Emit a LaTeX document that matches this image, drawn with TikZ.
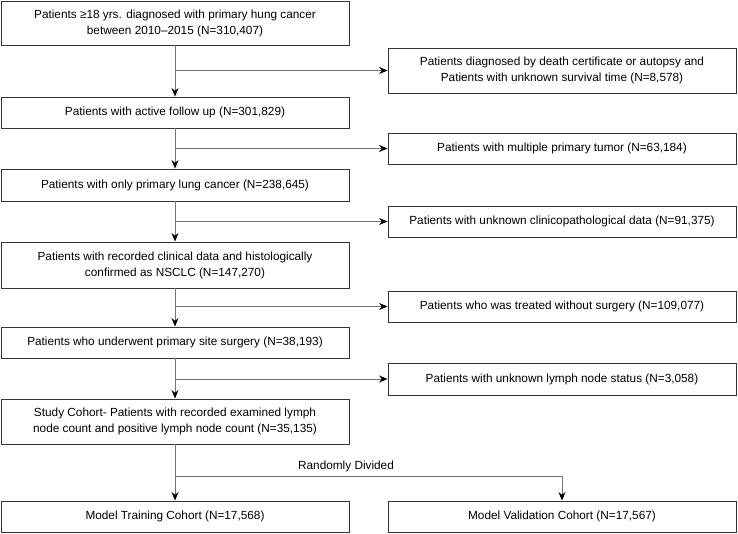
\documentclass[tikz,border=0pt]{standalone}
\usepackage{fontspec}
\setmainfont{Liberation Sans}
\usetikzlibrary{arrows.meta}
\begin{document}
\begin{tikzpicture}[x=1pt,y=-1pt,
  box/.style={draw=black!80,line width=0.9pt,minimum width=348pt,inner sep=2pt,align=center,font=\fontsize{11.8}{16}\selectfont},
  conn/.style={draw=black!55,line width=1pt},
  arr/.style={conn,-{Stealth[length=8.5pt,width=7pt,black]}}]
\useasboundingbox (0,0) rectangle (738,533);
\node[box,minimum height=44pt] (b1) at (175,23) {Patients ≥18 yrs. diagnosed with primary hung cancer\\between 2010–2015 (N=310,407)};
\node[box,minimum height=45pt] (r1) at (562,70.5) {Patients diagnosed by death certificate or autopsy and\\Patients with unknown survival time (N=8,578)};
\node[box,minimum height=31pt] (b2) at (175,112.5) {Patients with active follow up (N=301,829)};
\node[box,minimum height=31pt] (r2) at (562,148.5) {Patients with multiple primary tumor (N=63,184)};
\node[box,minimum height=32pt] (b3) at (175,185) {Patients with only primary lung cancer (N=238,645)};
\node[box,minimum height=31pt] (r3) at (562,221.5) {Patients with unknown clinicopathological data (N=91,375)};
\node[box,minimum height=46pt] (b4) at (175,265) {Patients with recorded clinical data and histologically\\confirmed as NSCLC (N=147,270)};
\node[box,minimum height=31pt] (r4) at (562,306.5) {Patients who was treated without surgery (N=109,077)};
\node[box,minimum height=31pt] (b5) at (175,342.5) {Patients who underwent primary site surgery (N=38,193)};
\node[box,minimum height=32pt] (r5) at (562,379) {Patients with unknown lymph node status (N=3,058)};
\node[box,minimum height=45pt] (b6) at (175,421.5) {Study Cohort- Patients with recorded examined lymph\\node count and positive lymph node count (N=35,135)};
\node[box,minimum height=31pt] (b7) at (175,516.5) {Model Training Cohort (N=17,568)};
\node[box,minimum height=31pt] (b8) at (562,516.5) {Model Validation Cohort (N=17,567)};
\coordinate (split) at (175,476);
\node[font=\fontsize{11.8}{14}\selectfont] (rd) at (346,466) {Randomly Divided};
\draw[arr] (b1.south) -- (b2.north);
\draw[arr] (b1.south |- r1.west) -- (r1.west);
\draw[arr] (b2.south) -- (b3.north);
\draw[arr] (b2.south |- r2.west) -- (r2.west);
\draw[arr] (b3.south) -- (b4.north);
\draw[arr] (b3.south |- r3.west) -- (r3.west);
\draw[arr] (b4.south) -- (b5.north);
\draw[arr] (b4.south |- r4.west) -- (r4.west);
\draw[arr] (b5.south) -- (b6.north);
\draw[arr] (b5.south |- r5.west) -- (r5.west);
\draw[arr] (b6.south) -- (b7.north);
\draw[arr] (split) -| (b8.north);
\end{tikzpicture}
\end{document}
